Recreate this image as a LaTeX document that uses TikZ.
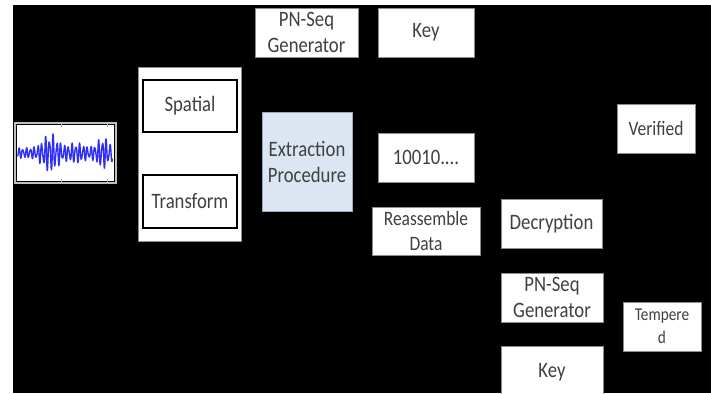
\documentclass[tikz,border=0pt]{standalone}
\usepackage{fontspec}
\setmainfont{Carlito}[FakeStretch=0.85]
\definecolor{txt}{HTML}{404040}
\definecolor{boxline}{HTML}{8C8C8C}
\definecolor{paleblue}{HTML}{DCE6F2}
\definecolor{paleedge}{HTML}{9AA9BF}
\definecolor{wave}{HTML}{2E2EF5}
\tikzset{
  wbox/.style={draw=boxline, fill=white, line width=0.7pt, text=txt, align=center,
    inner sep=0pt, font=\fontsize{22}{26}\selectfont},
  inbox/.style={wbox, draw=black, line width=1.6pt},
  smalltext/.style={font=\fontsize{20.5}{25}\selectfont},
  tinytext/.style={font=\fontsize{18}{23}\selectfont},
}
\begin{document}
\begin{tikzpicture}[x=1pt,y=-1pt]
\useasboundingbox (0,0) rectangle (711,393);
\clip (0,0) rectangle (711,393);
% page and black slide area
\fill[white] (0,0) rectangle (711,393);
\fill[black] (13,5) rectangle (711,393);

% signal thumbnail
\node[draw=gray!50, fill=white, line width=1.4pt, minimum width=101pt, minimum height=60pt, inner sep=0pt] (sig) at (65.5,153) {};
\draw[black, line width=0.8pt] ([xshift=2pt,yshift=-2pt]sig.north west) rectangle ([xshift=-2pt,yshift=2pt]sig.south east);
\draw[gray!60, line width=0.4pt]
  ([xshift=-4pt,yshift=-2pt]sig.north) -- ++(0,2.5) ([xshift=-4pt,yshift=2pt]sig.south) -- ++(0,-2.5)
  ([xshift=42pt,yshift=-2pt]sig.north) -- ++(0,2.5) ([xshift=42pt,yshift=2pt]sig.south) -- ++(0,-2.5);
% the signal: a few bursts on a low oscillation
\begin{scope}[shift={(sig.west)}]
\draw[wave, line width=1.4pt, line join=round]
  plot[domain=3:98, samples=300, smooth]
  (\x, {-1.3*(4 + 11*exp(-((\x-36)/10)^2) + 8*exp(-((\x-89)/8)^2) + 4*exp(-((\x-62)/10)^2))
        *(0.8*sin(95*\x) + 0.5*sin(75*\x+20)*cos(75*\x+20))});
\end{scope}

% transform panel
\node[wbox, minimum width=103pt, minimum height=174pt] (panel) at (189.5,154) {};
\node[inbox, minimum width=94pt, minimum height=52pt] (spatial) at (190,106) {Spatial};
\node[inbox, minimum width=94pt, minimum height=53pt] (transform) at (190,201.5) {Transform};

% extraction side
\node[wbox, fill=paleblue, draw=paleedge, minimum width=90pt, minimum height=99pt] (extract) at (307,161.5) {Extraction\\Procedure};
\node[wbox, minimum width=103pt, minimum height=49pt] (pna) at (306.5,32.5) {PN-Seq\\Generator};
\node[wbox, minimum width=96pt, minimum height=49pt] (keya) at (426,32.5) {Key};
\node[wbox, minimum width=96pt, minimum height=49pt] (bits) at (426,157.5) {10010....};
\node[wbox, smalltext, minimum width=108pt, minimum height=48pt] (reasm) at (426,231) {Reassemble\\Data};

% verification side
\node[wbox, minimum width=101pt, minimum height=49pt] (decrypt) at (551.5,223.5) {Decryption};
\node[wbox, minimum width=102pt, minimum height=49pt] (pnb) at (552,297.5) {PN-Seq\\Generator};
\node[wbox, minimum width=102pt, minimum height=52pt] (keyb) at (552,372) {Key};
\node[wbox, smalltext, minimum width=78pt, minimum height=49pt] (verified) at (656,128.5) {Verified};
\node[wbox, tinytext, minimum width=78pt, minimum height=49pt] (tempered) at (662,326.5) {Tempere\\d};
\end{tikzpicture}
\end{document}
